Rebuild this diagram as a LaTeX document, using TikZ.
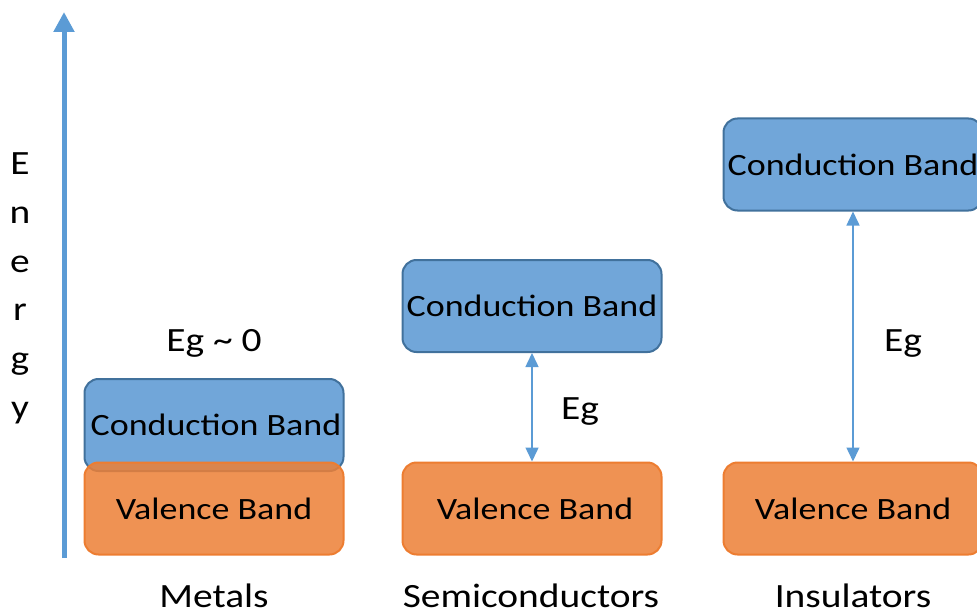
\documentclass[tikz,border=0pt]{standalone}
\usepackage{fontspec}
\setmainfont{Carlito}[FakeStretch=1.16]
\usetikzlibrary{arrows.meta}
\definecolor{cbfill}{HTML}{71A6D9}
\definecolor{cbdraw}{HTML}{41719C}
\definecolor{vbfill}{HTML}{EC8037}
\definecolor{vbdraw}{HTML}{ED7D31}
\definecolor{arr}{HTML}{5B9BD5}
\tikzset{
  band/.style={rectangle, rounded corners=14pt, minimum width=259pt, minimum height=92pt, line width=2pt, inner sep=0pt, font=\fontsize{31}{36}\selectfont},
  cband/.style={band, fill=cbfill, draw=cbdraw},
  vband/.style={band, fill=vbfill, draw=vbdraw, fill opacity=0.86, text opacity=1},
  lbl/.style={anchor=base, inner sep=0pt, font=\fontsize{34}{38}\selectfont},
  gap/.style={arr, line width=1.5pt, {Triangle[width=13pt,length=14pt]}-{Triangle[width=13pt,length=14pt]}},
}
\begin{document}
\begin{tikzpicture}[x=1pt, y=-1pt]
\useasboundingbox (0,0) rectangle (977,615);
\clip (0,0) rectangle (977,615);
% axis
\coordinate (axb) at (64,558);
\coordinate (axt) at (64,12);
\draw[arr, line width=5pt, -{Triangle[width=20pt,length=20pt]}] (axb) -- (axt);
\foreach \l [count=\i] in {E,n,e,r,g,y}
  \node[lbl] (en\i) at (20,{175+48.6*(\i-1)}) {\l};
% Metals
\node[cband] (mcb) at (214,425) {\hspace{4pt}Conduction Band};
\node[vband] (mvb) at (214,508.5) {Valence Band\hspace{6pt}};
\node[lbl] (meg) at (214,351) {Eg \textasciitilde{} 0};
\node[lbl] (mlab) at (214,607) {Metals};
% Semiconductors
\node[cband] (scb) at (532,306) {Conduction Band};
\node[vband] (svb) at (532,508.5) {\hspace{6pt}Valence Band};
\draw[gap] (scb.south) -- (svb.north);
\node[lbl] (seg) at (580,419) {Eg};
\node[lbl] (slab) at (531,607) {Semiconductors};
% Insulators
\node[cband] (icb) at (853,164.5) {Conduction Band};
\node[vband] (ivb) at (853,508.5) {Valence Band};
\draw[gap] (icb.south) -- (ivb.north);
\node[lbl] (ieg) at (903,351) {Eg};
\node[lbl] (ilab) at (853,607) {Insulators};
\end{tikzpicture}
\end{document}
